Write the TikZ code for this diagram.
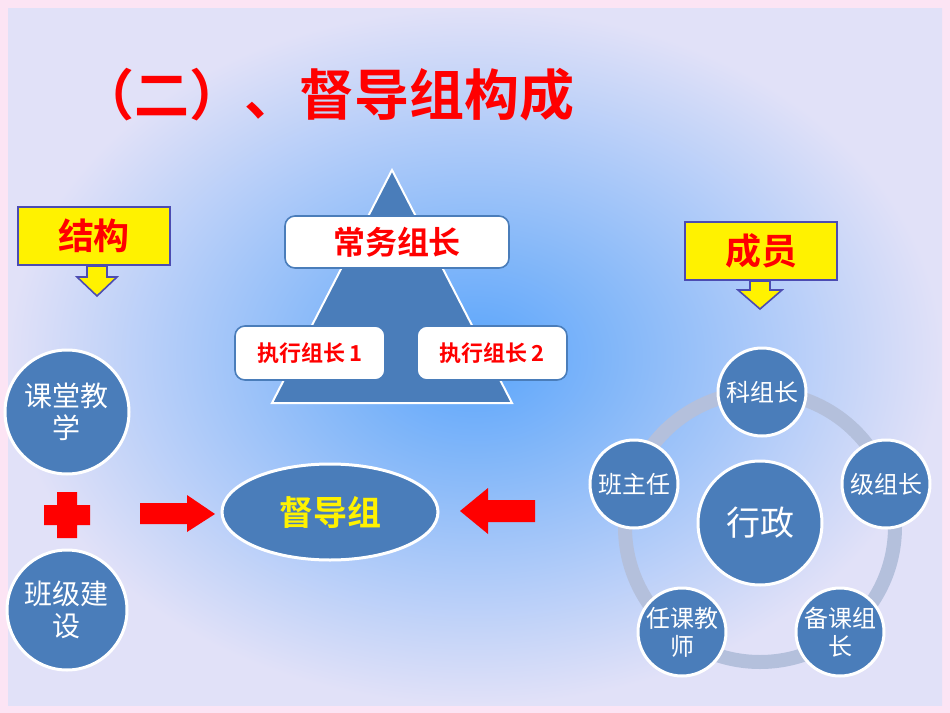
\documentclass[tikz,border=0pt]{standalone}
\usepackage{fontspec}
\setmainfont{Noto Sans CJK SC}
\newfontfamily\cjkb{Noto Sans CJK SC Bold}
\usetikzlibrary{shapes.geometric}
\definecolor{cblue}{HTML}{4A7DBA}
\definecolor{cred}{HTML}{FF0000}
\definecolor{ring}{HTML}{B4C0DC}
\definecolor{bgpink}{RGB}{252,228,244}
\definecolor{bgin}{RGB}{90,165,250}
\definecolor{bgout}{RGB}{225,225,248}
\tikzset{
 circ/.style={circle,fill=cblue,draw=white,line width=1.5pt,text=white,font=\fontsize{12}{14}\selectfont,align=center,inner sep=0pt},
 wbox/.style={rounded corners=5pt,fill=white,draw=cblue,line width=0.8pt,text=cred,font=\cjkb},
 ybox/.style={fill=yellow,draw=gray!60!blue,line width=0.8pt,text=cred,font=\cjkb\fontsize{18}{20}\selectfont},
 yarr/.style={fill=yellow,draw=gray!60!blue,line width=0.8pt},
 rarr/.style={fill=cred}
}
\begin{document}
\begin{tikzpicture}[x=0.5pt,y=-0.5pt]
\fill[bgpink] (0,0) rectangle (950,713);
\shade[inner color=bgin,outer color=bgout] (8,8) rectangle (942,705);
\node[text=cred,font=\cjkb\fontsize{27.5}{30}\selectfont,anchor=west] (title) at (72,95) {（二）、督导组构成};
% pyramid
\fill[cblue,draw=white,line width=1pt] (392,170) -- (512,403) -- (272,403) -- cycle;
\node[wbox,minimum width=112pt,minimum height=26pt,font=\cjkb\fontsize{16}{18}\selectfont] (cw) at (397,242) {常务组长};
\node[wbox,minimum width=75pt,minimum height=27pt,font=\cjkb\fontsize{11}{13}\selectfont] (z1) at (310,353) {执行组长 1};
\node[wbox,minimum width=75pt,minimum height=27pt,font=\cjkb\fontsize{11}{13}\selectfont] (z2) at (492,353) {执行组长 2};
% left
\node[ybox,minimum width=76pt,minimum height=29pt] (jg) at (94,236) {结构};
\draw[yarr] (87,266) -- (107,266) -- (107,277) -- (117,277) -- (97,296) -- (77,277) -- (87,277) -- cycle;
\node[ybox,minimum width=76pt,minimum height=29pt] (cy) at (761,251) {成员};
\draw[yarr] (750,281) -- (770,281) -- (770,290) -- (782,290) -- (760,309) -- (738,290) -- (750,290) -- cycle;
\node[circ,minimum size=62pt,font=\fontsize{14}{16}\selectfont] (kt) at (67,412) {课堂教\\学};
\node[circ,minimum size=60pt,font=\fontsize{14}{16}\selectfont] (bj) at (67,610) {班级建\\设};
\fill[cred] (57,492) rectangle (77,538) (44,505) rectangle (90,525);
\fill[rarr] (140,503) -- (187,503) -- (187,495) -- (215,514) -- (187,532) -- (187,524) -- (140,524) -- cycle;
\fill[rarr] (535,500) -- (488,500) -- (488,488) -- (460,511) -- (488,534) -- (488,522) -- (535,522) -- cycle;
\node[ellipse,fill=cblue,draw=white,line width=1.5pt,minimum width=108pt,minimum height=48pt,text=yellow,font=\cjkb\fontsize{17}{20}\selectfont] (dd) at (330,512) {督导组};
% right
\draw[ring,line width=7pt] (760,527) circle (135);
\node[circ,minimum size=62pt,font=\fontsize{17}{20}\selectfont] (xz) at (760,523) {行政};
\node[circ,minimum size=44pt] (k) at (762,392) {科组长};
\node[circ,minimum size=44pt] (j) at (886,484) {级组长};
\node[circ,minimum size=44pt] (b) at (840,632) {备课组\\长};
\node[circ,minimum size=44pt] (r) at (682,632) {任课教\\师};
\node[circ,minimum size=44pt] (bz) at (634,484) {班主任};
\end{tikzpicture}
\end{document}
